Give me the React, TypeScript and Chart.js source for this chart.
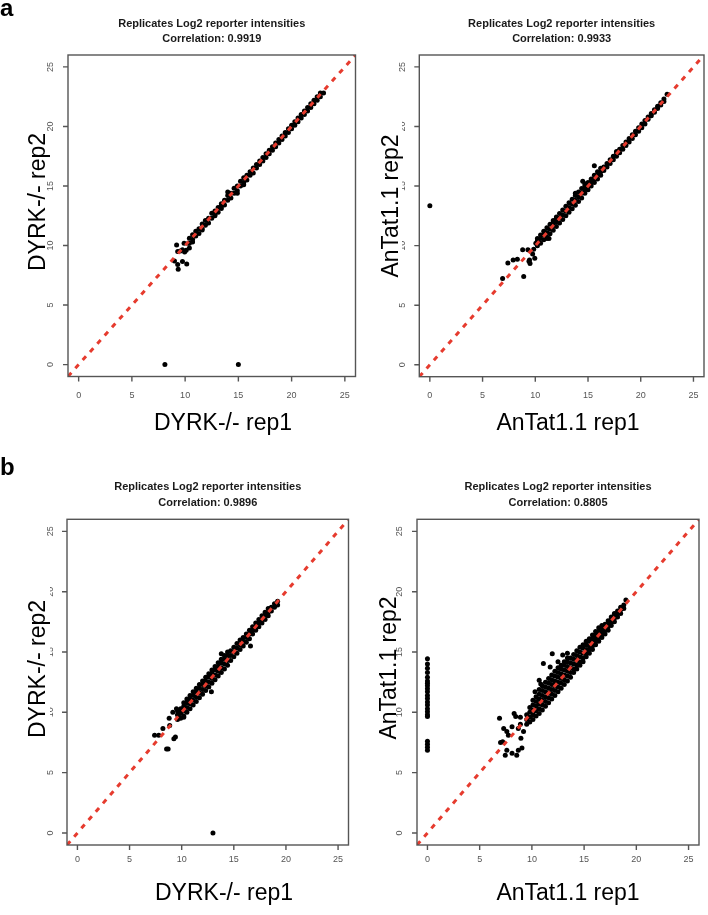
import React, { useEffect, useRef } from "react";
import { Chart, registerables } from "chart.js";

Chart.register(...registerables);

// ---------------- data ----------------
const axisMin = -1;
const axisMax = 26;
const tickValues = [0, 5, 10, 15, 20, 25];
const titleLine1 = "Replicates Log2 reporter intensities";
const correlations = ["0.9919", "0.9933", "0.9896", "0.8805"];
const xTitles = ["DYRK-/- rep1", "AnTat1.1 rep1", "DYRK-/- rep1", "AnTat1.1 rep1"];
const yTitles = ["DYRK-/- rep2", "AnTat1.1 rep2", "DYRK-/- rep2", "AnTat1.1 rep2"];
const panelLetters = ["a", "b"];

// isolated points [rep1, rep2]
const outliersTL: [number, number][] = [
  [8.1, 0], [15.0, 0],
  [9.0, 8.7], [9.3, 8.4], [9.35, 8.0], [9.75, 8.65], [10.15, 8.45], [9.2, 10.05],
  [9.3, 9.5], [9.75, 9.65], [9.95, 9.45], [9.9, 10.2], [10.4, 9.8], [10.3, 10.2],
  [9.55, 9.55], [10.1, 9.6],
];
// dense band: [rep1, [rep2 values]]
const bandTL: [number, number[]][] = [
  [10.4, [10.2, 10.6]], [10.7, [10.3, 10.5, 10.9]], [11.0, [10.8, 11.2]], [11.3, [11.0, 11.4]],
  [11.6, [11.3, 11.4, 11.8]], [11.9, [11.7, 12.1]], [12.2, [11.9, 12.3]], [12.5, [12.3, 12.7]],
  [12.8, [12.5, 12.6, 12.9]], [13.1, [12.8, 13.2]], [13.4, [13.1, 13.3, 13.5]], [13.7, [13.4, 13.8]],
  [14.0, [13.8, 14.2, 14.5]], [14.3, [14.0, 14.4]], [14.6, [14.4, 14.8]], [14.9, [14.4, 14.6, 15.0]],
  [15.2, [15.0, 15.4]], [15.5, [15.1, 15.3, 15.7]], [15.8, [15.5, 15.9]], [16.1, [15.9, 16.2]],
  [16.4, [16.1, 16.5]], [16.7, [16.5, 16.8]], [17.0, [16.8, 17.1]], [17.3, [17.1, 17.4]],
  [17.6, [17.4, 17.7]], [17.9, [17.7, 18.0]], [18.2, [18.0, 18.3]], [18.5, [18.3, 18.6]],
  [18.8, [18.6, 18.9]], [19.1, [18.9, 19.2]], [19.4, [19.2, 19.5]], [19.7, [19.5, 19.8]],
  [20.0, [19.8, 20.1]], [20.3, [20.1, 20.4]], [20.6, [20.4, 20.7]], [20.9, [20.7, 21.0]],
  [21.2, [21.0, 21.3]], [21.5, [21.3, 21.6]], [21.8, [21.6, 21.9]], [22.1, [21.9, 22.2]],
  [22.4, [22.2, 22.5]], [22.7, [22.5, 22.8]], [23.0, [22.8]],
];

const outliersTR: [number, number][] = [
  [0, 13.35],
  [6.9, 7.25], [7.4, 8.55], [7.9, 8.8], [8.3, 8.85], [8.8, 9.65], [8.9, 7.4], [9.3, 9.65],
  [9.45, 8.8], [9.5, 8.5], [9.75, 9.3], [9.95, 8.95], [9.85, 9.7], [10.05, 10.2], [11.3, 10.6],
  [14.5, 15.4], [15.6, 16.7], [9.4, 8.7],
];
const bandTR: [number, number[]][] = [
  [10.2, [10.0, 10.4, 10.6]], [10.5, [10.2, 10.6, 10.9]], [10.8, [10.5, 10.9, 11.2]],
  [11.1, [10.6, 10.7, 11.1, 11.5]], [11.4, [11.0, 11.4, 11.8]], [11.7, [11.3, 11.7, 11.9, 12.1]],
  [12.0, [11.6, 12.0, 12.3, 12.4]], [12.3, [11.9, 12.3, 12.7]], [12.6, [12.2, 12.6, 13.0]],
  [12.9, [12.5, 12.9, 13.3]], [13.2, [12.8, 13.2, 13.6]], [13.5, [13.1, 13.5, 13.9]],
  [13.8, [13.4, 13.8, 14.2, 14.4]], [14.1, [13.7, 14.1, 14.5]], [14.4, [14.0, 14.4, 14.8]],
  [14.7, [14.4, 14.7, 15.0, 15.2]], [15.0, [14.7, 15.0, 15.3]], [15.3, [15.0, 15.3, 15.6]],
  [15.6, [15.3, 15.6, 15.9]], [15.9, [15.6, 15.9, 16.2]], [16.2, [15.9, 16.2, 16.5]],
  [16.5, [16.3, 16.6]], [16.8, [16.6, 16.9]], [17.1, [16.9, 17.2]], [17.4, [17.2, 17.5]],
  [17.7, [17.5, 17.8, 17.9]], [18.0, [17.8, 18.1]], [18.3, [18.1, 18.4]], [18.6, [18.4, 18.7]],
  [18.9, [18.7, 19.0]], [19.2, [19.0, 19.3]], [19.5, [19.3, 19.6]], [19.8, [19.6, 19.9]],
  [20.1, [19.9, 20.2]], [20.4, [20.2, 20.5]], [20.7, [20.6, 20.8]], [21.0, [20.9, 21.1]],
  [21.3, [21.2, 21.4]], [21.6, [21.5, 21.7]], [21.9, [21.8, 22.0]], [22.2, [22.1, 22.3]],
  [22.5, [22.7]],
];

const outliersBL: [number, number][] = [
  [13.0, 0],
  [7.4, 8.1], [7.8, 8.1], [8.2, 8.65], [8.55, 6.95], [8.7, 6.95], [9.25, 7.8], [9.4, 7.95],
  [8.85, 8.9], [8.8, 9.5], [9.15, 10.0], [9.5, 10.3], [9.65, 9.75], [10.2, 9.6], [9.95, 10.15],
  [13.8, 14.85], [14.45, 14.7], [12.85, 11.7], [16.6, 15.5],
];
const bandBL: [number, number[]][] = [
  [9.6, [9.4, 9.8, 10.1]], [9.9, [9.5, 9.9, 10.3]], [10.2, [9.7, 10.1, 10.5, 10.8]],
  [10.5, [10.0, 10.4, 10.8, 11.1]], [10.8, [10.3, 10.7, 11.1, 11.4]], [11.1, [10.6, 11.0, 11.4, 11.7]],
  [11.4, [10.9, 11.3, 11.7, 12.0]], [11.7, [11.2, 11.6, 12.0, 12.3]], [12.0, [11.5, 11.9, 12.3, 12.6]],
  [12.3, [11.8, 12.2, 12.6, 12.9]], [12.6, [12.1, 12.5, 12.9, 13.2]], [12.9, [12.4, 12.8, 13.2, 13.5]],
  [13.2, [12.7, 13.1, 13.5, 13.8]], [13.5, [13.0, 13.4, 13.8, 14.1]], [13.8, [13.3, 13.7, 14.1, 14.4]],
  [14.1, [13.6, 14.0, 14.4, 14.7]], [14.4, [13.9, 14.3, 14.7, 15.0]], [14.7, [14.3, 14.7, 15.1]],
  [15.0, [14.6, 15.0, 15.4]], [15.3, [14.9, 15.3, 15.7]], [15.6, [15.2, 15.6, 16.0]],
  [15.9, [15.5, 15.9, 16.2]], [16.2, [15.8, 16.2, 16.5]], [16.5, [16.1, 16.5, 16.8]],
  [16.8, [16.5, 16.8, 17.1]], [17.1, [16.8, 17.1, 17.4]], [17.4, [17.1, 17.4, 17.7]],
  [17.7, [17.4, 17.7, 18.0]], [18.0, [17.7, 18.0, 18.3]], [18.3, [18.0, 18.3, 18.6]],
  [18.6, [18.4, 18.7]], [18.9, [18.7, 19.0]], [19.2, [18.9, 19.2]],
];

const outliersBR: [number, number][] = [
  [0, 14.45], [0, 14.0], [0, 13.65], [0, 13.3], [0, 12.9], [0, 12.6], [0, 12.4], [0, 12.2],
  [0, 11.95], [0, 11.7], [0, 11.4], [0, 11.15], [0, 10.85], [0, 10.6], [0, 10.3], [0, 10.05],
  [0, 9.8], [0, 9.65], [0, 7.6], [0, 7.35], [0, 7.1], [0, 6.85],
  [6.9, 9.5], [7.0, 7.5], [7.45, 6.45], [7.6, 6.85], [8.1, 6.6], [8.55, 6.45], [8.7, 6.85],
  [9.05, 7.05], [7.3, 8.65], [7.6, 8.4], [7.75, 8.1], [8.1, 8.8], [8.3, 9.9], [8.45, 9.65],
  [8.9, 9.6], [9.2, 8.4], [8.7, 8.65], [8.95, 7.85], [7.2, 7.55], [8.9, 9.0],
  [11.1, 14.05], [10.7, 12.65], [10.85, 12.35], [10.3, 11.7], [11.75, 13.75], [11.95, 14.85],
  [12.95, 14.75], [12.25, 12.5], [13.4, 14.9], [12.5, 14.2],
];
const bandBR: [number, number[]][] = [
  [9.5, [9.0, 9.4, 9.8]], [9.8, [9.2, 9.6, 10.0, 10.4]], [10.1, [9.4, 9.8, 10.2, 10.6, 11.0]],
  [10.4, [9.7, 10.1, 10.5, 10.9, 11.3]], [10.7, [9.9, 10.3, 10.7, 11.1, 11.5, 11.9]],
  [11.0, [10.2, 10.6, 11.0, 11.4, 11.8, 12.2]], [11.3, [10.5, 10.9, 11.3, 11.7, 12.1, 12.5]],
  [11.6, [10.8, 11.2, 11.6, 12.0, 12.4, 12.8]], [11.9, [11.1, 11.5, 11.9, 12.3, 12.7, 13.1]],
  [12.2, [11.4, 11.8, 12.2, 12.6, 13.0, 13.4]], [12.5, [11.7, 12.1, 12.5, 12.9, 13.3, 13.7]],
  [12.8, [12.0, 12.4, 12.8, 13.2, 13.6, 13.9]], [13.1, [12.3, 12.7, 13.1, 13.5, 13.9, 14.2]],
  [13.4, [12.6, 13.0, 13.4, 13.8, 14.2, 14.5]], [13.7, [12.9, 13.3, 13.7, 14.1, 14.5]],
  [14.0, [13.3, 13.6, 14.0, 14.4, 14.8]], [14.3, [13.6, 13.9, 14.3, 14.7, 15.1]],
  [14.6, [13.9, 14.2, 14.6, 15.0, 15.4]], [14.9, [14.2, 14.5, 14.9, 15.3, 15.6]],
  [15.2, [14.6, 14.9, 15.2, 15.6, 15.9]], [15.5, [14.9, 15.2, 15.5, 15.9, 16.1]],
  [15.8, [15.2, 15.5, 15.8, 16.1, 16.4]], [16.1, [15.6, 15.9, 16.1, 16.4, 16.7]],
  [16.4, [15.9, 16.2, 16.4, 16.7, 17.0]], [16.7, [16.2, 16.5, 16.7, 17.0, 17.2]],
  [17.0, [16.5, 16.8, 17.0, 17.3]], [17.3, [16.8, 17.1, 17.3, 17.6]],
  [17.6, [17.2, 17.5, 17.7, 17.9]], [17.9, [17.5, 17.8, 18.0, 18.2]],
  [18.2, [17.9, 18.2, 18.4]], [18.5, [18.2, 18.5, 18.7]], [18.8, [18.6, 18.9]], [19.0, [19.3]],
];

// ---------------- layout (positions, not data) ----------------
const W = 708;
const H = 915;

type Layout = {
  box: [number, number, number, number]; // left, top, right, bottom
  titleY: [number, number];
  xTickY: number;
  yTickX: number;
  xTitle: [number, number];
  yTitle: [number, number];
  cover?: [number, number, number, number]; // white backing of the y title
  letter?: [number, number];
};

const layouts: Layout[] = [
  { box: [68, 55, 355.5, 376.5], titleY: [23.5, 38.5], xTickY: 396, yTickX: 51, xTitle: [223, 430], yTitle: [45, 202], letter: [0, 16] },
  { box: [419.3, 55, 707, 376.7], titleY: [23.5, 38.5], xTickY: 396, yTickX: 403, xTitle: [568, 430], yTitle: [398, 206], cover: [372, 117, 402, 262] },
  { box: [67, 519.3, 348.5, 845], titleY: [486.7, 503.3], xTickY: 860, yTickX: 50.7, xTitle: [224, 900], yTitle: [45, 669], cover: [20, 582, 50, 727], letter: [0, 475] },
  { box: [417, 519.3, 699, 845], titleY: [486.7, 503.3], xTickY: 860, yTickX: 399.3, xTitle: [568, 900], yTitle: [396, 668] },
];

const outlierSets = [outliersTL, outliersTR, outliersBL, outliersBR];
const bandSets = [bandTL, bandTR, bandBL, bandBR];

const RED = "#e63b2e";
const FONT = '"Liberation Sans", Arial, Helvetica, sans-serif';

function makeDecor(i: number) {
  const L = layouts[i];
  return {
    id: "decor" + i,
    afterDraw(chart: any) {
      const ctx: CanvasRenderingContext2D = chart.ctx;
      const a = chart.chartArea;
      const xs = chart.scales.x;
      const ys = chart.scales.y;
      ctx.save();
      // box
      ctx.strokeStyle = "#555";
      ctx.lineWidth = 1.4;
      ctx.strokeRect(a.left, a.top, a.right - a.left, a.bottom - a.top);
      // tick marks
      ctx.beginPath();
      tickValues.forEach((v) => {
        const px = xs.getPixelForValue(v);
        ctx.moveTo(px, a.bottom);
        ctx.lineTo(px, a.bottom + 5);
        const py = ys.getPixelForValue(v);
        ctx.moveTo(a.left, py);
        ctx.lineTo(a.left - 5, py);
      });
      ctx.stroke();
      // tick labels
      ctx.fillStyle = "#555";
      ctx.font = "9px " + FONT;
      ctx.textAlign = "center";
      ctx.textBaseline = "middle";
      tickValues.forEach((v) => {
        ctx.fillText(String(v), xs.getPixelForValue(v), L.xTickY);
        ctx.save();
        ctx.translate(L.yTickX, ys.getPixelForValue(v));
        ctx.rotate(-Math.PI / 2);
        ctx.fillText(String(v), 0, 0);
        ctx.restore();
      });
      // titles
      const cx = (a.left + a.right) / 2;
      ctx.fillStyle = "#1a1a1a";
      ctx.font = "bold 11px " + FONT;
      ctx.fillText(titleLine1, cx, L.titleY[0]);
      ctx.fillText("Correlation: " + correlations[i], cx, L.titleY[1]);
      // white backing behind y title (hides part of tick labels as in the figure)
      if (L.cover) {
        ctx.fillStyle = "#fff";
        ctx.fillRect(L.cover[0], L.cover[1], L.cover[2] - L.cover[0], L.cover[3] - L.cover[1]);
      }
      // axis titles
      ctx.fillStyle = "#000";
      ctx.font = "23px " + FONT;
      ctx.textBaseline = "alphabetic";
      ctx.fillText(xTitles[i], L.xTitle[0], L.xTitle[1]);
      ctx.save();
      ctx.translate(L.yTitle[0], L.yTitle[1]);
      ctx.rotate(-Math.PI / 2);
      ctx.fillText(yTitles[i], 0, 0);
      ctx.restore();
      // panel letter
      if (L.letter) {
        ctx.font = "bold 24px " + FONT;
        ctx.textAlign = "left";
        ctx.fillText(panelLetters[i === 0 ? 0 : 1], L.letter[0], L.letter[1]);
      }
      ctx.restore();
    },
  };
}

function ScatterPanel({ index }: { index: number }) {
  const ref = useRef<HTMLCanvasElement>(null);
  useEffect(() => {
    const L = layouts[index];
    const pts = [
      ...outlierSets[index].map(([x, y]) => ({ x, y })),
      ...bandSets[index].flatMap(([x, ys]) => ys.map((y) => ({ x, y }))),
    ];
    const chart = new Chart(ref.current as HTMLCanvasElement, {
      type: "scatter",
      data: {
        datasets: [
          {
            type: "line",
            data: [
              { x: axisMin, y: axisMin },
              { x: axisMax, y: axisMax },
            ],
            borderColor: RED,
            borderWidth: 3,
            borderDash: [5, 6],
            pointRadius: 0,
            order: 0,
          } as any,
          {
            data: pts,
            backgroundColor: "#000",
            borderColor: "#000",
            borderWidth: 0,
            pointRadius: 2.5,
            order: 1,
          },
        ],
      },
      options: {
        responsive: false,
        animation: false,
        devicePixelRatio: 1,
        layout: {
          padding: { left: L.box[0], top: L.box[1], right: W - L.box[2], bottom: H - L.box[3] },
        },
        scales: {
          x: { type: "linear", display: false, min: axisMin, max: axisMax },
          y: { type: "linear", display: false, min: axisMin, max: axisMax },
        },
        plugins: { legend: { display: false }, tooltip: { enabled: false }, title: { display: false } },
        events: [],
      },
      plugins: [makeDecor(index)],
    });
    return () => chart.destroy();
  }, [index]);
  return <canvas ref={ref} width={W} height={H} style={{ position: "absolute", left: 0, top: 0 }} />;
}

export default function App() {
  return (
    <div style={{ position: "absolute", left: 0, top: 0, width: W, height: H, background: "#fff", overflow: "hidden" }}>
      {[0, 1, 2, 3].map((i) => (
        <ScatterPanel key={i} index={i} />
      ))}
    </div>
  );
}
